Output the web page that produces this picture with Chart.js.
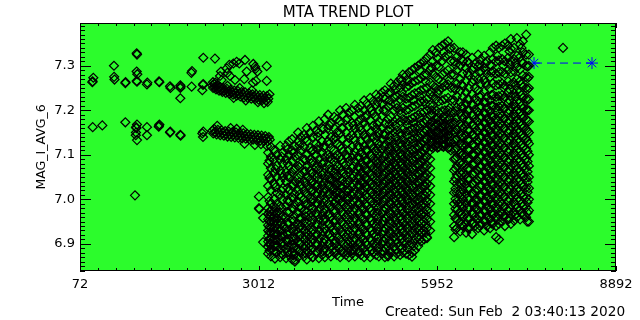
<!doctype html>
<html lang="en">
  <head>
    <meta charset="UTF-8" />
    <title>MTA Trend Plot</title>
    <script src="https://cdn.jsdelivr.net/npm/chart.js"></script>
    <style>
      body {
        margin: 0;
        background: #fff;
      }
      #wrap {
        width: 640px;
        height: 320px;
      }
    </style>
  </head>
  <body>
    <div id="wrap"><canvas id="trend" width="640" height="320"></canvas></div>

    <script>
      // axis ticks
      const timeTicks = [72, 3012, 5952, 8892];
      const magTicks = [6.9, 7.0, 7.1, 7.2, 7.3];

      // sparse readings before the dense bands, [time, mag]
      const earlyReadings = [
        [275, 7.263], [280, 7.265], [291, 7.273], [631, 7.3], [633, 7.275], [640, 7.269],
        [818, 7.261], [822, 7.263], [1005, 7.328], [1010, 7.325], [1005, 7.287], [1015, 7.281],
        [1005, 7.266], [1010, 7.264], [1174, 7.258], [1180, 7.262], [1372, 7.265], [1378, 7.263],
        [1553, 7.254], [1560, 7.25], [1723, 7.256], [1728, 7.253], [1723, 7.25], [1723, 7.227],
        [1909, 7.253], [1915, 7.288], [1905, 7.284], [2101, 7.318], [2293, 7.316], [2096, 7.257],
        [2100, 7.259], [2085, 7.245],
        [281, 7.162], [439, 7.166], [818, 7.173], [993, 7.162], [1000, 7.16], [1010, 7.168],
        [993, 7.15], [990, 7.144], [1010, 7.133], [1174, 7.162], [1174, 7.144], [1372, 7.165],
        [1378, 7.168], [1368, 7.163], [1553, 7.15], [1558, 7.152], [1723, 7.145], [1728, 7.143],
        [2085, 7.148], [2096, 7.14], [2101, 7.152],
        [977, 7.009], [3017, 7.006], [3017, 6.98], [3022, 6.978], [3085, 6.904], [3085, 6.958]
      ];

      // upper band 2200-3200
      const upperBand = [
        [2250, 7.256], [2262, 7.25], [2280, 7.258], [2295, 7.252], [2310, 7.247], [2325, 7.255],
        [2345, 7.249], [2360, 7.244], [2380, 7.252], [2400, 7.246], [2415, 7.241], [2430, 7.25],
        [2450, 7.244], [2470, 7.239], [2490, 7.248], [2510, 7.242], [2530, 7.237], [2550, 7.246],
        [2570, 7.24], [2590, 7.235], [2610, 7.244], [2630, 7.238], [2650, 7.233], [2670, 7.243],
        [2690, 7.237], [2710, 7.231], [2730, 7.241], [2750, 7.235], [2770, 7.229], [2790, 7.24],
        [2810, 7.233], [2830, 7.228], [2850, 7.238], [2870, 7.232], [2890, 7.226], [2910, 7.236],
        [2930, 7.23], [2950, 7.225], [2970, 7.235], [2990, 7.229], [3010, 7.224], [3030, 7.234],
        [3050, 7.228], [3070, 7.223], [3090, 7.233], [3110, 7.227], [3130, 7.222], [3150, 7.232],
        [3170, 7.226], [3190, 7.236], [2260, 7.263], [2300, 7.262], [2500, 7.255], [2700, 7.25],
        [2900, 7.245], [3000, 7.218], [3100, 7.216], [3160, 7.219], [2800, 7.222], [2600, 7.228],
        [2376, 7.277], [2392, 7.287], [2486, 7.294], [2529, 7.302], [2595, 7.305], [2650, 7.309],
        [2693, 7.305], [2787, 7.313], [2815, 7.287], [2775, 7.27], [2924, 7.304], [2952, 7.298],
        [2968, 7.266], [2960, 7.293], [3144, 7.299], [3144, 7.266], [2990, 7.287], [2623, 7.268],
        [2540, 7.277], [2919, 7.262], [2497, 7.284], [2403, 7.268]
      ];

      // lower band 2200-3200
      const lowerBand = [
        [2250, 7.154], [2265, 7.148], [2280, 7.158], [2300, 7.151], [2320, 7.146], [2340, 7.156],
        [2360, 7.15], [2380, 7.144], [2400, 7.155], [2420, 7.149], [2440, 7.143], [2460, 7.153],
        [2480, 7.147], [2500, 7.141], [2520, 7.152], [2540, 7.146], [2560, 7.14], [2580, 7.151],
        [2600, 7.145], [2620, 7.139], [2640, 7.15], [2660, 7.144], [2680, 7.138], [2700, 7.149],
        [2720, 7.143], [2740, 7.137], [2760, 7.148], [2780, 7.142], [2800, 7.136], [2820, 7.147],
        [2840, 7.141], [2860, 7.135], [2880, 7.146], [2900, 7.14], [2920, 7.134], [2940, 7.145],
        [2960, 7.139], [2980, 7.133], [3000, 7.144], [3020, 7.138], [3040, 7.132], [3060, 7.143],
        [3080, 7.137], [3100, 7.131], [3120, 7.142], [3140, 7.136], [3160, 7.13], [3180, 7.14],
        [3195, 7.134], [2330, 7.165], [2550, 7.16], [2650, 7.158], [2750, 7.156], [2780, 7.125],
        [2950, 7.122], [3050, 7.124], [3150, 7.12]
      ];

      // outliers around the main cloud
      const strayReadings = [
        [3280, 6.867], [3610, 6.864], [3900, 6.87], [4540, 6.886], [4650, 6.88], [5140, 6.872],
        [5535, 6.871], [5782, 6.913], [8020, 7.34], [6966, 6.91], [7430, 6.95]
      ];

      // main cloud: one list of mags per time step
      const cloudTime = [
        3168, 3214, 3266, 3311, 3365, 3410, 3463, 3509, 3562, 3608, 3661, 3707, 3760, 3805, 3858,
        3904, 3957, 4003, 4056, 4101, 4155, 4200, 4254, 4299, 4352, 4398, 4451, 4496, 4550, 4595,
        4648, 4694, 4747, 4793, 4846, 4891, 4945, 4990, 5043, 5089, 5142, 5187, 5241, 5286, 5340,
        5385, 5438, 5484, 5537, 5582, 5636, 5681, 5734, 5780, 5833, 5878, 5931, 5977, 6030, 6076,
        6129, 6175, 6228, 6273, 6327, 6372, 6425, 6471, 6524, 6570, 6623, 6668, 6722, 6767, 6820,
        6866, 6919, 6964, 7018, 7063, 7117, 7162, 7215, 7261, 7314, 7359, 7413, 7458
      ];
      const cloudMag = [
        [6.878, 6.893, 6.905, 6.918, 6.93, 6.942, 6.955, 6.967, 6.98, 7.005, 7.03, 7.055, 7.08, 7.105],
        [6.872, 6.888, 6.9, 6.912, 6.925, 6.937, 6.95, 6.962, 6.975, 6.99, 7.02, 7.045, 7.07, 7.095, 7.118],
        [6.885, 6.897, 6.91, 6.922, 6.935, 6.948, 6.96, 6.972, 7.0, 7.035, 7.06, 7.09, 7.11],
        [6.88, 6.895, 6.908, 6.92, 6.933, 6.945, 6.958, 6.97, 6.99, 7.015, 7.05, 7.075, 7.1],
        [6.87, 6.89, 6.91, 6.93, 6.95, 6.97, 6.985, 7.01, 7.04, 7.065, 7.09, 7.12],
        [6.875, 6.895, 6.92, 6.94, 6.962, 7.0, 7.025, 7.05, 7.08, 7.105],
        [6.868, 6.89, 6.91, 6.935, 6.96, 6.985, 7.01, 7.04, 7.06, 7.09, 7.12],
        [6.875, 6.893, 6.91, 6.928, 6.945, 6.97, 6.995, 7.02, 7.05, 7.075, 7.1, 7.13],
        [6.865, 6.88, 6.898, 6.915, 6.935, 6.955, 6.98, 7.005, 7.03, 7.06, 7.085, 7.11, 7.135],
        [6.86, 6.878, 6.895, 6.915, 6.94, 6.962, 6.988, 7.012, 7.04, 7.068, 7.095, 7.12],
        [6.87, 6.888, 6.905, 6.925, 6.945, 6.97, 6.995, 7.02, 7.048, 7.075, 7.1, 7.13, 7.15],
        [6.88, 6.9, 6.92, 6.94, 6.958, 6.98, 7.005, 7.03, 7.055, 7.08, 7.11, 7.14],
        [6.872, 6.89, 6.91, 6.93, 6.95, 6.975, 7.0, 7.02, 7.04, 7.062, 7.09, 7.118, 7.145],
        [6.865, 6.885, 6.905, 6.925, 6.948, 6.97, 6.99, 7.012, 7.032, 7.052, 7.075, 7.1, 7.13, 7.16],
        [6.875, 6.895, 6.915, 6.935, 6.96, 6.985, 7.005, 7.025, 7.045, 7.065, 7.09, 7.115, 7.15],
        [6.87, 6.89, 6.91, 6.932, 6.955, 6.98, 7.0, 7.02, 7.04, 7.06, 7.085, 7.11, 7.14, 7.165],
        [6.88, 6.9, 6.92, 6.945, 6.97, 6.99, 7.01, 7.03, 7.05, 7.07, 7.1, 7.125, 7.155],
        [6.868, 6.888, 6.91, 6.93, 6.955, 6.978, 7.0, 7.022, 7.045, 7.068, 7.09, 7.12, 7.15, 7.175],
        [6.875, 6.895, 6.918, 6.94, 6.962, 6.985, 7.008, 7.03, 7.055, 7.08, 7.105, 7.13, 7.16],
        [6.87, 6.89, 6.91, 6.935, 6.958, 6.98, 7.002, 7.025, 7.048, 7.07, 7.095, 7.12, 7.145, 7.18],
        [6.878, 6.9, 6.92, 6.945, 6.965, 6.99, 7.01, 7.032, 7.055, 7.078, 7.1, 7.13, 7.16, 7.19],
        [6.872, 6.892, 6.915, 6.938, 6.96, 6.982, 7.005, 7.025, 7.045, 7.065, 7.09, 7.115, 7.14, 7.17],
        [6.88, 6.9, 6.925, 6.948, 6.97, 6.99, 7.008, 7.025, 7.042, 7.06, 7.085, 7.11, 7.135, 7.16, 7.185],
        [6.875, 6.895, 6.918, 6.94, 6.962, 6.985, 7.002, 7.018, 7.035, 7.052, 7.075, 7.1, 7.125, 7.15, 7.18],
        [6.87, 6.89, 6.91, 6.932, 6.955, 6.978, 7.0, 7.015, 7.03, 7.048, 7.07, 7.095, 7.12, 7.148, 7.175, 7.2],
        [6.88, 6.9, 6.922, 6.945, 6.968, 6.99, 7.008, 7.025, 7.042, 7.06, 7.082, 7.108, 7.135, 7.16, 7.19],
        [6.875, 6.895, 6.915, 6.938, 6.96, 6.982, 7.0, 7.018, 7.035, 7.055, 7.078, 7.1, 7.125, 7.15, 7.178, 7.205],
        [6.87, 6.888, 6.908, 6.93, 6.955, 6.978, 7.0, 7.02, 7.04, 7.06, 7.085, 7.11, 7.138, 7.165, 7.195],
        [6.878, 6.898, 6.92, 6.942, 6.965, 6.988, 7.008, 7.028, 7.048, 7.07, 7.092, 7.118, 7.145, 7.172, 7.2],
        [6.872, 6.892, 6.912, 6.935, 6.958, 6.98, 7.002, 7.022, 7.042, 7.062, 7.085, 7.108, 7.132, 7.158, 7.185, 7.212],
        [6.88, 6.9, 6.922, 6.945, 6.968, 6.99, 7.01, 7.03, 7.05, 7.072, 7.095, 7.12, 7.148, 7.175, 7.205],
        [6.875, 6.895, 6.915, 6.938, 6.96, 6.982, 7.002, 7.02, 7.04, 7.06, 7.082, 7.105, 7.13, 7.155, 7.18, 7.21],
        [6.87, 6.89, 6.91, 6.932, 6.955, 6.978, 7.0, 7.018, 7.036, 7.055, 7.075, 7.098, 7.12, 7.145, 7.172, 7.2, 7.222],
        [6.878, 6.898, 6.92, 6.942, 6.965, 6.985, 7.005, 7.025, 7.045, 7.065, 7.088, 7.11, 7.135, 7.162, 7.19, 7.215],
        [6.87, 6.892, 6.912, 6.935, 6.958, 6.98, 7.0, 7.02, 7.04, 7.06, 7.08, 7.1, 7.125, 7.15, 7.178, 7.205, 7.228],
        [6.88, 6.9, 6.922, 6.945, 6.968, 6.99, 7.01, 7.03, 7.05, 7.07, 7.092, 7.115, 7.14, 7.165, 7.192, 7.22],
        [6.875, 6.895, 6.918, 6.94, 6.962, 6.984, 7.004, 7.024, 7.044, 7.064, 7.085, 7.108, 7.132, 7.158, 7.185, 7.212, 7.235],
        [6.872, 6.893, 6.915, 6.938, 6.96, 6.982, 7.002, 7.022, 7.042, 7.062, 7.082, 7.102, 7.125, 7.15, 7.175, 7.2, 7.23],
        [6.878, 6.9, 6.922, 6.945, 6.968, 6.99, 7.01, 7.03, 7.05, 7.07, 7.09, 7.112, 7.135, 7.16, 7.188, 7.215, 7.24],
        [6.87, 6.89, 6.912, 6.935, 6.958, 6.98, 7.0, 7.02, 7.04, 7.06, 7.08, 7.1, 7.122, 7.145, 7.17, 7.198, 7.225, 7.245],
        [6.875, 6.895, 6.918, 6.94, 6.962, 6.984, 7.005, 7.025, 7.045, 7.065, 7.085, 7.108, 7.13, 7.155, 7.18, 7.208, 7.238],
        [6.88, 6.9, 6.922, 6.945, 6.966, 6.988, 7.008, 7.028, 7.048, 7.068, 7.088, 7.11, 7.132, 7.158, 7.185, 7.212, 7.24, 7.26],
        [6.872, 6.894, 6.916, 6.938, 6.96, 6.982, 7.003, 7.023, 7.043, 7.063, 7.083, 7.104, 7.126, 7.15, 7.175, 7.2, 7.228, 7.255],
        [6.878, 6.9, 6.92, 6.942, 6.964, 6.986, 7.006, 7.026, 7.046, 7.066, 7.086, 7.107, 7.13, 7.155, 7.18, 7.205, 7.232, 7.262],
        [6.875, 6.896, 6.918, 6.94, 6.962, 6.984, 7.005, 7.025, 7.045, 7.065, 7.085, 7.105, 7.127, 7.15, 7.175, 7.2, 7.225, 7.25, 7.27],
        [6.88, 6.902, 6.924, 6.946, 6.968, 6.99, 7.01, 7.03, 7.05, 7.07, 7.09, 7.11, 7.132, 7.156, 7.18, 7.205, 7.23, 7.258, 7.28],
        [6.878, 6.9, 6.92, 6.942, 6.964, 6.985, 7.006, 7.026, 7.046, 7.066, 7.086, 7.106, 7.128, 7.152, 7.176, 7.2, 7.226, 7.252, 7.278],
        [6.875, 6.898, 6.92, 6.942, 6.964, 6.986, 7.008, 7.028, 7.048, 7.068, 7.088, 7.108, 7.13, 7.154, 7.178, 7.202, 7.228, 7.255, 7.285],
        [6.88, 6.9, 6.924, 6.946, 6.968, 6.99, 7.01, 7.03, 7.05, 7.07, 7.09, 7.112, 7.135, 7.158, 7.182, 7.208, 7.234, 7.262, 7.29],
        [6.885, 6.908, 6.93, 6.952, 6.974, 6.995, 7.015, 7.035, 7.055, 7.075, 7.095, 7.115, 7.138, 7.16, 7.185, 7.21, 7.238, 7.265, 7.295],
        [6.895, 6.915, 6.936, 6.958, 6.98, 7.0, 7.02, 7.04, 7.06, 7.08, 7.1, 7.12, 7.142, 7.165, 7.19, 7.215, 7.24, 7.268, 7.3],
        [6.905, 6.925, 6.946, 6.966, 6.986, 7.006, 7.026, 7.046, 7.066, 7.086, 7.106, 7.126, 7.148, 7.17, 7.195, 7.22, 7.245, 7.272, 7.305],
        [6.91, 6.93, 6.95, 6.97, 6.99, 7.01, 7.03, 7.05, 7.07, 7.09, 7.11, 7.13, 7.15, 7.172, 7.196, 7.22, 7.248, 7.278, 7.31],
        [6.915, 6.935, 6.955, 6.975, 6.995, 7.015, 7.035, 7.055, 7.075, 7.095, 7.115, 7.135, 7.155, 7.175, 7.2, 7.225, 7.25, 7.28, 7.318],
        [6.93, 6.95, 6.97, 6.99, 7.01, 7.03, 7.05, 7.07, 7.09, 7.11, 7.13, 7.15, 7.17, 7.19, 7.212, 7.236, 7.262, 7.29, 7.325],
        [7.115, 7.13, 7.145, 7.16, 7.175, 7.19, 7.21, 7.232, 7.256, 7.282, 7.31, 7.335],
        [7.12, 7.135, 7.15, 7.165, 7.18, 7.2, 7.225, 7.25, 7.275, 7.3, 7.33],
        [7.118, 7.132, 7.146, 7.16, 7.175, 7.195, 7.22, 7.245, 7.27, 7.298, 7.34],
        [7.12, 7.134, 7.148, 7.162, 7.178, 7.198, 7.222, 7.25, 7.28, 7.31, 7.345],
        [7.122, 7.136, 7.15, 7.165, 7.18, 7.2, 7.225, 7.255, 7.285, 7.32, 7.35],
        [7.115, 7.13, 7.145, 7.16, 7.178, 7.2, 7.228, 7.258, 7.29, 7.325, 7.355],
        [7.11, 7.13, 7.15, 7.17, 7.195, 7.222, 7.25, 7.28, 7.31, 7.34],
        [6.915, 6.94, 6.965, 6.99, 7.015, 7.04, 7.065, 7.09, 7.11, 7.13, 7.15, 7.17, 7.195, 7.222, 7.25, 7.28, 7.31, 7.34],
        [6.935, 6.955, 6.975, 6.995, 7.015, 7.035, 7.055, 7.075, 7.095, 7.115, 7.135, 7.158, 7.182, 7.206, 7.232, 7.26, 7.29, 7.32],
        [6.928, 6.95, 6.972, 6.994, 7.016, 7.038, 7.06, 7.082, 7.104, 7.126, 7.148, 7.17, 7.194, 7.218, 7.244, 7.27, 7.3, 7.33],
        [6.94, 6.96, 6.98, 7.0, 7.02, 7.04, 7.06, 7.08, 7.1, 7.12, 7.14, 7.16, 7.182, 7.205, 7.23, 7.255, 7.282, 7.31, 7.33],
        [6.925, 6.946, 6.968, 6.99, 7.012, 7.034, 7.056, 7.078, 7.1, 7.122, 7.144, 7.166, 7.19, 7.214, 7.24, 7.266, 7.295, 7.325],
        [6.935, 6.956, 6.978, 7.0, 7.022, 7.044, 7.066, 7.088, 7.11, 7.132, 7.154, 7.176, 7.2, 7.225, 7.25, 7.278, 7.305],
        [6.922, 6.945, 6.968, 6.99, 7.012, 7.034, 7.056, 7.078, 7.1, 7.122, 7.144, 7.166, 7.188, 7.212, 7.236, 7.262, 7.29, 7.318],
        [6.94, 6.96, 6.98, 7.0, 7.02, 7.04, 7.06, 7.08, 7.1, 7.12, 7.14, 7.16, 7.18, 7.202, 7.226, 7.25, 7.276, 7.304],
        [6.935, 6.955, 6.976, 6.998, 7.02, 7.042, 7.064, 7.086, 7.108, 7.13, 7.152, 7.174, 7.196, 7.22, 7.245, 7.27, 7.298, 7.325],
        [6.945, 6.966, 6.988, 7.01, 7.032, 7.054, 7.076, 7.098, 7.12, 7.142, 7.164, 7.186, 7.21, 7.234, 7.26, 7.288, 7.315],
        [6.93, 6.952, 6.974, 6.996, 7.018, 7.04, 7.062, 7.084, 7.106, 7.128, 7.15, 7.172, 7.194, 7.218, 7.242, 7.268, 7.295, 7.322],
        [6.94, 6.962, 6.984, 7.006, 7.028, 7.05, 7.072, 7.094, 7.116, 7.138, 7.16, 7.182, 7.205, 7.23, 7.256, 7.282, 7.31],
        [6.935, 6.956, 6.978, 7.0, 7.022, 7.044, 7.066, 7.088, 7.11, 7.132, 7.154, 7.176, 7.198, 7.222, 7.248, 7.275, 7.302, 7.33],
        [6.945, 6.966, 6.988, 7.01, 7.032, 7.054, 7.076, 7.098, 7.12, 7.142, 7.164, 7.186, 7.21, 7.235, 7.26, 7.288, 7.315, 7.34],
        [6.915, 6.94, 6.962, 6.984, 7.006, 7.028, 7.05, 7.072, 7.094, 7.116, 7.138, 7.16, 7.182, 7.206, 7.23, 7.256, 7.282, 7.31, 7.345],
        [6.945, 6.966, 6.988, 7.01, 7.032, 7.054, 7.076, 7.098, 7.12, 7.142, 7.164, 7.186, 7.208, 7.232, 7.258, 7.285, 7.312, 7.34],
        [6.95, 6.97, 6.99, 7.012, 7.034, 7.056, 7.078, 7.1, 7.122, 7.144, 7.166, 7.188, 7.21, 7.234, 7.26, 7.286, 7.315, 7.345],
        [6.94, 6.962, 6.984, 7.006, 7.028, 7.05, 7.072, 7.094, 7.116, 7.138, 7.16, 7.182, 7.205, 7.23, 7.256, 7.282, 7.31, 7.35],
        [6.955, 6.975, 6.996, 7.018, 7.04, 7.062, 7.084, 7.106, 7.128, 7.15, 7.172, 7.194, 7.216, 7.24, 7.265, 7.29, 7.318, 7.345],
        [6.945, 6.966, 6.988, 7.01, 7.032, 7.054, 7.076, 7.098, 7.12, 7.142, 7.164, 7.186, 7.208, 7.232, 7.258, 7.285, 7.31, 7.338, 7.36],
        [6.952, 6.972, 6.994, 7.016, 7.038, 7.06, 7.082, 7.104, 7.126, 7.148, 7.17, 7.192, 7.214, 7.238, 7.262, 7.288, 7.315, 7.34],
        [6.96, 6.98, 7.0, 7.022, 7.044, 7.066, 7.088, 7.11, 7.132, 7.154, 7.176, 7.198, 7.22, 7.244, 7.27, 7.296, 7.322, 7.362],
        [6.955, 6.976, 6.998, 7.02, 7.042, 7.064, 7.086, 7.108, 7.13, 7.152, 7.174, 7.196, 7.218, 7.242, 7.266, 7.292, 7.32, 7.348],
        [6.965, 6.985, 7.006, 7.028, 7.05, 7.072, 7.094, 7.116, 7.138, 7.16, 7.182, 7.204, 7.228, 7.252, 7.278, 7.305, 7.33, 7.355],
        [6.96, 6.982, 7.004, 7.026, 7.048, 7.07, 7.092, 7.114, 7.136, 7.158, 7.18, 7.202, 7.226, 7.25, 7.275, 7.3, 7.325, 7.37],
        [6.95, 6.975, 7.0, 7.025, 7.05, 7.075, 7.1, 7.125, 7.15, 7.175, 7.2, 7.225, 7.25, 7.275, 7.3, 7.325]
      ];

      // extra readings in between, where the cloud is densest
      const coreTime = [
        3190, 3289, 3388, 3486, 3585, 3684, 3783, 3881, 3980, 4079, 4177, 4276, 4375, 4474, 4573,
        4671, 4770, 4869, 4967, 5066, 5165, 5264, 5362, 5461, 5560, 5659, 5757, 5856, 5955, 6053,
        6152, 6251, 6350, 6448, 6547, 6646, 6745, 6843, 6942, 7041, 7140, 7238, 7337, 7436
      ];
      const coreMag = [
        [6.884, 6.899, 6.911, 6.926, 6.938, 6.951, 6.963, 6.972, 6.996, 7.048, 7.087],
        [6.882, 6.896, 6.909, 6.927, 6.94, 6.953, 6.968, 6.981, 7.027, 7.068],
        [6.879, 6.902, 6.917, 6.931, 6.946, 6.959, 6.981, 7.019, 7.058, 7.096],
        [6.881, 6.904, 6.921, 6.947, 6.972, 6.998, 7.026, 7.052, 7.081, 7.112],
        [6.874, 6.891, 6.907, 6.928, 6.951, 6.977, 7.001, 7.034, 7.066, 7.104],
        [6.884, 6.9, 6.919, 6.936, 6.957, 6.983, 7.011, 7.039, 7.072, 7.121],
        [6.879, 6.896, 6.917, 6.94, 6.962, 6.988, 7.014, 7.038, 7.063, 7.088, 7.137],
        [6.886, 6.904, 6.926, 6.947, 6.969, 6.994, 7.017, 7.036, 7.058, 7.081, 7.108],
        [6.881, 6.899, 6.921, 6.943, 6.966, 6.991, 7.014, 7.033, 7.057, 7.079, 7.112, 7.141],
        [6.884, 6.903, 6.927, 6.952, 6.971, 6.993, 7.016, 7.037, 7.059, 7.083, 7.117, 7.158],
        [6.88, 6.901, 6.923, 6.944, 6.967, 6.986, 7.012, 7.029, 7.046, 7.068, 7.094, 7.125, 7.166],
        [6.886, 6.907, 6.93, 6.953, 6.974, 6.996, 7.014, 7.031, 7.049, 7.067, 7.093, 7.14],
        [6.883, 6.904, 6.926, 6.948, 6.971, 6.994, 7.011, 7.028, 7.045, 7.064, 7.089, 7.114, 7.16],
        [6.881, 6.9, 6.921, 6.943, 6.966, 6.988, 7.007, 7.024, 7.044, 7.067, 7.094, 7.127, 7.182],
        [6.885, 6.906, 6.929, 6.951, 6.973, 6.995, 7.013, 7.033, 7.053, 7.074, 7.099, 7.137, 7.166],
        [6.884, 6.905, 6.927, 6.949, 6.971, 6.992, 7.012, 7.031, 7.051, 7.071, 7.093, 7.117, 7.162, 7.194],
        [6.881, 6.902, 6.923, 6.944, 6.966, 6.988, 7.009, 7.027, 7.047, 7.066, 7.087, 7.11, 7.139, 7.184],
        [6.886, 6.908, 6.93, 6.952, 6.975, 6.996, 7.016, 7.035, 7.055, 7.076, 7.097, 7.121, 7.153, 7.199],
        [6.884, 6.904, 6.928, 6.949, 6.971, 6.993, 7.013, 7.033, 7.053, 7.072, 7.092, 7.114, 7.141, 7.168, 7.219],
        [6.883, 6.906, 6.929, 6.952, 6.975, 6.997, 7.017, 7.037, 7.057, 7.076, 7.097, 7.12, 7.146, 7.2, 7.23],
        [6.886, 6.908, 6.93, 6.953, 6.974, 6.995, 7.016, 7.036, 7.056, 7.076, 7.096, 7.118, 7.142, 7.169, 7.222],
        [6.887, 6.909, 6.931, 6.953, 6.975, 6.996, 7.016, 7.036, 7.056, 7.076, 7.096, 7.117, 7.14, 7.166, 7.214, 7.246],
        [6.889, 6.912, 6.934, 6.956, 6.978, 6.999, 7.019, 7.04, 7.06, 7.08, 7.1, 7.121, 7.144, 7.192, 7.24, 7.266],
        [6.889, 6.911, 6.933, 6.955, 6.976, 6.997, 7.018, 7.038, 7.058, 7.078, 7.098, 7.12, 7.143, 7.167, 7.215, 7.266],
        [6.895, 6.918, 6.94, 6.962, 6.983, 7.004, 7.025, 7.045, 7.065, 7.085, 7.105, 7.126, 7.149, 7.172, 7.222, 7.277],
        [6.91, 6.93, 6.951, 6.972, 6.993, 7.015, 7.036, 7.056, 7.076, 7.096, 7.116, 7.137, 7.159, 7.183, 7.232, 7.29],
        [6.925, 6.945, 6.966, 6.987, 7.008, 7.03, 7.051, 7.072, 7.093, 7.114, 7.134, 7.155, 7.178, 7.214, 7.265, 7.3],
        [7.118, 7.128, 7.138, 7.15, 7.162, 7.174, 7.2, 7.242, 7.296],
        [7.116, 7.126, 7.138, 7.153, 7.168, 7.183, 7.238, 7.316],
        [7.118, 7.128, 7.142, 7.156, 7.17, 7.186, 7.262, 7.33],
        [7.117, 7.127, 7.14, 7.155, 7.168, 7.182, 7.205, 7.268, 7.338],
        [6.932, 6.957, 6.979, 7.001, 7.024, 7.047, 7.069, 7.091, 7.112, 7.133, 7.151, 7.172, 7.198, 7.246, 7.302],
        [6.944, 6.967, 6.989, 7.011, 7.033, 7.055, 7.077, 7.099, 7.121, 7.143, 7.165, 7.187, 7.209, 7.258, 7.315],
        [6.936, 6.958, 6.98, 7.002, 7.024, 7.046, 7.068, 7.09, 7.112, 7.134, 7.156, 7.178, 7.2, 7.225, 7.284, 7.31],
        [6.948, 6.969, 6.991, 7.013, 7.035, 7.057, 7.079, 7.101, 7.123, 7.145, 7.167, 7.189, 7.212, 7.268, 7.296],
        [6.941, 6.963, 6.985, 7.007, 7.029, 7.051, 7.073, 7.095, 7.117, 7.139, 7.161, 7.183, 7.206, 7.23, 7.286, 7.303],
        [6.951, 6.973, 6.995, 7.017, 7.039, 7.061, 7.083, 7.105, 7.127, 7.149, 7.171, 7.193, 7.217, 7.262, 7.29, 7.305],
        [6.946, 6.967, 6.989, 7.011, 7.033, 7.055, 7.077, 7.099, 7.121, 7.143, 7.165, 7.187, 7.21, 7.234, 7.285, 7.3],
        [6.955, 6.977, 6.999, 7.021, 7.043, 7.065, 7.087, 7.109, 7.131, 7.153, 7.175, 7.197, 7.22, 7.27, 7.322],
        [6.961, 6.983, 7.005, 7.027, 7.049, 7.071, 7.093, 7.115, 7.137, 7.159, 7.181, 7.203, 7.226, 7.251, 7.3],
        [6.957, 6.979, 7.001, 7.023, 7.045, 7.067, 7.089, 7.111, 7.133, 7.155, 7.177, 7.199, 7.222, 7.247, 7.303, 7.332],
        [6.966, 6.988, 7.01, 7.032, 7.054, 7.076, 7.098, 7.12, 7.142, 7.164, 7.186, 7.208, 7.231, 7.256, 7.306],
        [6.968, 6.99, 7.012, 7.034, 7.056, 7.078, 7.1, 7.122, 7.144, 7.166, 7.188, 7.21, 7.234, 7.258, 7.31, 7.34],
        [6.97, 6.993, 7.016, 7.039, 7.062, 7.085, 7.108, 7.131, 7.154, 7.177, 7.2, 7.223, 7.247, 7.272, 7.298]
      ];

      // blue reference marks
      const fitTime = [7543, 8497];
      const fitMag = [7.306, 7.306];

      const green = "#2cfc2c";
      const fontFace = "'DejaVu Sans', sans-serif";

      const toPoints = (rows) => rows.map(([t, v]) => ({ x: t, y: v }));
      const columnPoints = (times, mags) => {
        const pts = [];
        times.forEach((t, i) => mags[i].forEach((v) => pts.push({ x: t, y: v })));
        return pts;
      };
      const diamonds = toPoints(earlyReadings)
        .concat(toPoints(upperBand))
        .concat(toPoints(lowerBand))
        .concat(columnPoints(cloudTime, cloudMag))
        .concat(columnPoints(coreTime, coreMag))
        .concat(toPoints(strayReadings));

      // background, frame, inward ticks and the plot texts
      const idlFrame = {
        id: "idlFrame",
        beforeDatasetsDraw(chart) {
          const { ctx, chartArea: a } = chart;
          ctx.save();
          ctx.fillStyle = green;
          ctx.fillRect(a.left, a.top, a.right - a.left, a.bottom - a.top);
          ctx.restore();
        },
        afterDraw(chart) {
          const { ctx, chartArea: a, scales } = chart;
          const xs = scales.x;
          const ys = scales.y;
          ctx.save();
          ctx.strokeStyle = "#000";
          ctx.lineWidth = 1;
          ctx.strokeRect(a.left + 0.5, a.top + 0.5, a.right - a.left - 1, a.bottom - a.top - 1);

          ctx.beginPath();
          for (let i = 0; i <= 30; i++) {
            const px = Math.round(xs.getPixelForValue(72 + i * 294)) + 0.5;
            const len = i % 10 === 0 ? 5 : 3;
            ctx.moveTo(px, a.bottom);
            ctx.lineTo(px, a.bottom - len);
            ctx.moveTo(px, a.top);
            ctx.lineTo(px, a.top + len);
          }
          for (let i = 684; i <= 739; i++) {
            const py = Math.round(ys.getPixelForValue(i / 100)) + 0.5;
            const len = i % 10 === 0 ? 11 : 5;
            ctx.moveTo(a.left, py);
            ctx.lineTo(a.left + len, py);
            ctx.moveTo(a.right, py);
            ctx.lineTo(a.right - len, py);
          }
          ctx.stroke();

          ctx.fillStyle = "#000";
          ctx.textBaseline = "alphabetic";
          ctx.textAlign = "center";
          ctx.font = "15px " + fontFace;
          ctx.fillText("MTA TREND PLOT", 348, 17);
          ctx.font = "13px " + fontFace;
          ctx.fillText("Time", 348, 306);
          ctx.textAlign = "left";
          ctx.font = "13.7px " + fontFace;
          ctx.fillText("Created: Sun Feb  2 03:40:13 2020", 385, 316);

          ctx.translate(45, 147);
          ctx.rotate(-Math.PI / 2);
          ctx.textAlign = "center";
          ctx.font = "12.5px " + fontFace;
          ctx.fillText("MAG_I_AVG_6", 0, 0);
          ctx.restore();
        },
      };

      new Chart(document.getElementById("trend"), {
        type: "scatter",
        data: {
          datasets: [
            {
              label: "MAG_I_AVG_6",
              data: diamonds,
              pointStyle: "rectRot",
              pointRadius: 4.5,
              pointBorderWidth: 1.2,
              pointBorderColor: "#000",
              pointBackgroundColor: "rgba(0,0,0,0)",
              showLine: false,
            },
            {
              label: "fit",
              data: fitTime.map((t, i) => ({ x: t, y: fitMag[i] })),
              showLine: true,
              borderColor: "#0000ff",
              borderWidth: 1,
              borderDash: [8, 5],
              pointStyle: "star",
              pointRadius: 6,
              pointBorderWidth: 1,
              pointBorderColor: "#0000ff",
              pointBackgroundColor: "#0000ff",
            },
          ],
        },
        options: {
          responsive: false,
          animation: false,
          layout: { padding: { top: 23, right: 24, left: 0, bottom: 0 } },
          plugins: {
            legend: { display: false },
            tooltip: { enabled: false },
          },
          scales: {
            x: {
              type: "linear",
              min: 72,
              max: 8892,
              grid: { display: false, drawTicks: false },
              border: { display: false },
              afterBuildTicks: (axis) => {
                axis.ticks = timeTicks.map((v) => ({ value: v }));
              },
              afterFit: (axis) => {
                axis.height = 49;
              },
              ticks: {
                padding: 6,
                maxRotation: 0,
                autoSkip: false,
                color: "#000",
                font: { family: fontFace, size: 13 },
                callback: (v) => String(v),
              },
            },
            y: {
              min: 6.839,
              max: 7.396,
              grid: { display: false, drawTicks: false },
              border: { display: false },
              afterBuildTicks: (axis) => {
                axis.ticks = magTicks.map((v) => ({ value: v }));
              },
              afterFit: (axis) => {
                axis.width = 80;
              },
              ticks: {
                padding: 5,
                autoSkip: false,
                color: "#000",
                font: { family: fontFace, size: 13 },
                callback: (v) => v.toFixed(1),
              },
            },
          },
        },
        plugins: [idlFrame],
      });
    </script>
  </body>
</html>
